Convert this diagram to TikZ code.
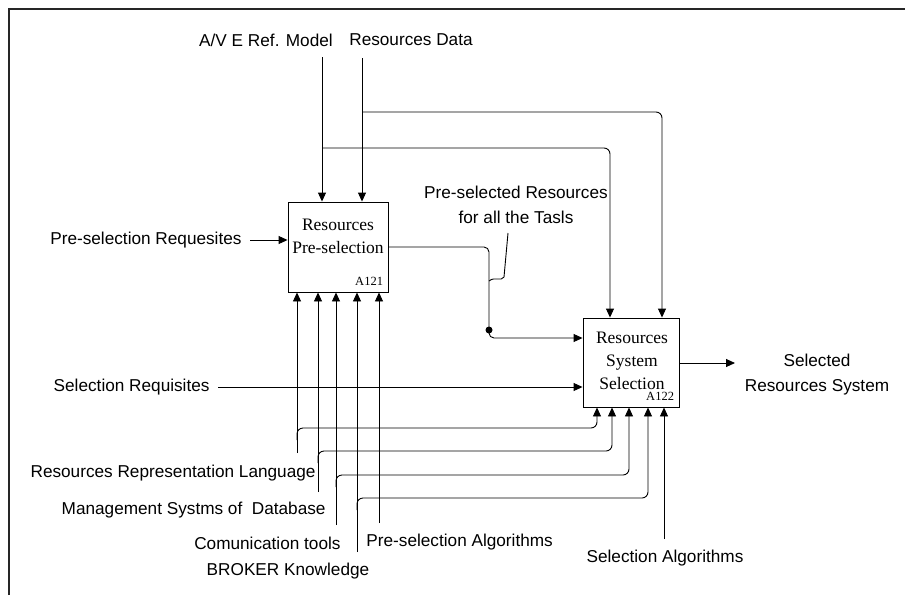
\documentclass[tikz,border=0pt]{standalone}
\usepackage{fontspec}
\setmainfont{Liberation Serif}
\setsansfont{Liberation Sans}
\usetikzlibrary{arrows.meta}

\begin{document}
\begin{tikzpicture}[x=1pt,y=-1pt,line width=0.9pt,
    font=\sffamily\fontsize{17.2}{25}\selectfont,
    arr/.style={-{Triangle[length=9pt,width=8pt]}},
    box/.style={draw,minimum width=100pt,minimum height=90pt,inner sep=0pt},
    boxtext/.style={align=center,inner sep=0pt,font=\rmfamily\fontsize{17.5}{23}\selectfont},
    code/.style={anchor=south east,inner xsep=5pt,inner ysep=7pt,font=\rmfamily\fontsize{12.5}{14}\selectfont},
    lbl/.style={inner sep=1pt,align=center}]
    \useasboundingbox (0,0) rectangle (905,595);
    \draw[line width=2pt,gray!30!black] (9,595) -- (9,9) -- (905,9);

    \node[box] (a121) at (338,247) {};
    \node[boxtext] (t121) at (338,236) {Resources\\Pre-selection};
    \node[code] (c121) at (a121.south east) {A121};
    \node[box,minimum width=96pt,minimum height=89pt] (a122) at (631,362.5) {};
    \node[boxtext] (t122) at (632,361) {Resources\\System\\Selection};
    \node[code,inner xsep=5pt,inner ysep=7pt] (c122) at (a122.south east) {A122};

    \node[lbl] (ave) at (266,40) {A/V E Ref. Model};
    \node[lbl] (rdata) at (411,40) {Resources Data};
    \node[lbl,anchor=east] (prereq) at (243,240) {Pre-selection Requesites};
    \node[lbl,anchor=east] (selreq) at (211,387) {Selection Requisites};
    \node[lbl] (presel) at (516,205) {Pre-selected Resources\\for all the Tasls};
    \node[lbl] (selsys) at (817,375) {Selected\\Resources System};
    \node[lbl,anchor=east] (rrl) at (317,473) {Resources Representation Language};
    \node[lbl,anchor=east] (msd) at (327,510) {Management Systms of~ Database};
    \node[lbl,anchor=east] (comt) at (342,543) {Comunication tools};
    \node[lbl] (broker) at (288,571) {BROKER Knowledge};
    \node[lbl,anchor=west] (prealg) at (365,542) {Pre-selection Algorithms};
    \node[lbl] (selalg) at (665,558) {Selection Algorithms};

    \coordinate (av) at (322,57);
    \coordinate (rd) at (362,58);
    \coordinate (avb) at (322,148);
    \coordinate (rdb) at (362,112);
    \draw[arr] (av) -- (av |- a121.north);
    \draw[arr] (rd) -- (rd |- a121.north);
    \draw[arr,rounded corners=6pt] (avb) -| ([xshift=-21pt]a122.north);
    \draw[arr,rounded corners=6pt] (rdb) -| ([xshift=31pt]a122.north);

    \coordinate (pr) at (250,240);
    \coordinate (sr) at (218,387);
    \draw[arr] (pr) -- (pr -| a121.west);
    \draw[arr] (sr) -- (sr -| a122.west);

    \coordinate (dot) at (489,330);
    \draw[rounded corners=5pt] (a121.east) -| (dot);
    \fill (dot) circle (3.5pt);
    \draw[arr,rounded corners=5pt] (dot) |- ([yshift=24.5pt]a122.west);
    \draw (508,233) -- (504,277) .. controls (501,282) and (495,276) .. (489,281);

    \coordinate (out) at (735,363);
    \draw[arr] (out -| a122.east) -- (out);

    \foreach \i/\mx/\my/\by/\bx in {1/297/453/428/597, 2/318/492/451/612, 3/336/525/475/629, 4/357/552/498/648} {
        \coordinate (m\i) at (\mx,\my);
        \coordinate (b\i) at (\bx,\by);
        \draw[arr] (m\i) -- (m\i |- a121.south);
        \draw[arr,rounded corners=6pt] (\mx,\by+12) -- (\mx,\by) -- (b\i) -- (b\i |- a122.south);
    }
    \coordinate (m5) at (379,523);
    \draw[arr] (m5) -- (m5 |- a121.south);
    \coordinate (sa) at (664,539);
    \draw[arr] (sa) -- (sa |- a122.south);
\end{tikzpicture}
\end{document}
